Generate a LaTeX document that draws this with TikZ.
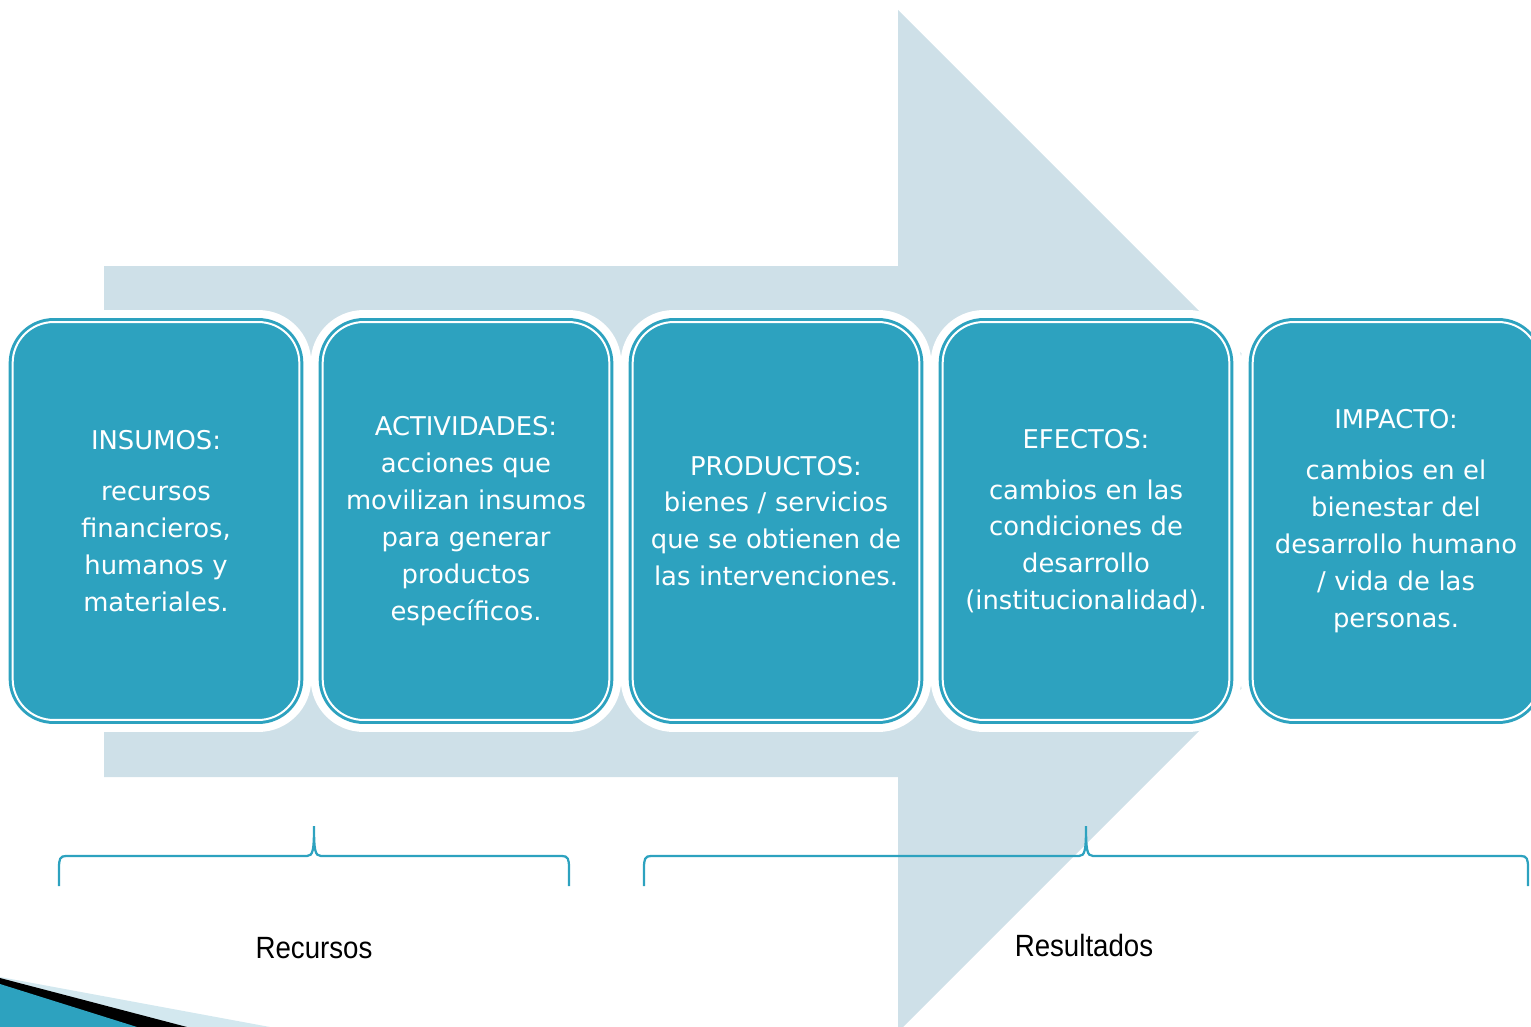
\documentclass[tikz,border=0pt]{standalone}
\usepackage{fontspec}
\newfontfamily\stagefont{DejaVu Sans}
\newfontfamily\labelfont{Liberation Sans}
\definecolor{arrowgray}{HTML}{CEE0E8}
\definecolor{stageteal}{HTML}{2DA2BF}
\definecolor{cornerblue}{HTML}{D3E8EF}
\tikzset{
	stagebox/.style={rectangle, rounded corners=0.82cm, minimum width=5.68cm, minimum height=7.96cm,
		text width=5.5cm, align=center, fill=stageteal, draw=white, line width=0.04cm,
		preaction={draw=white, line width=0.48cm}, preaction={draw=stageteal, line width=0.16cm},
		text=white, font=\stagefont\fontsize{14.7}{21}\selectfont},
	groupline/.style={draw=stageteal, line width=0.045cm},
	grouplabel/.style={font=\labelfont\fontsize{17.5}{21}\selectfont, text=black}
}
\def\groupbrace(#1:#2:#3){\draw[groupline] (#1,886) -- (#1,868) .. controls (#1,859) and ({#1+1},856) .. ({#1+7},856) -- ({#2-7},856) .. controls ({#2-1},856) and (#2,850) .. (#2,826) .. controls (#2,850) and ({#2+1},856) .. ({#2+7},856) -- ({#3-7},856) .. controls ({#3-1},856) and (#3,859) .. (#3,868) -- (#3,886);}

\begin{document}
\begin{tikzpicture}[x=0.02cm, y=-0.02cm]
			%%%%% START %%%%%
			\clip (0,0) rectangle (1531,1027);
			
			\fill[arrowgray] (104,266) -- (898,266) -- (898,10) -- (1409,521) -- (898,1032) -- (898,777) -- (104,777) -- cycle;
			
			\node[stagebox] (insumos) at (156,521) {INSUMOS:\\[8pt] recursos\\ financieros,\\ humanos y\\ materiales.};
			\node[stagebox] (actividades) at (466,521) {ACTIVIDADES:\\ acciones que\\ movilizan insumos\\ para generar\\ productos\\ específicos.};
			\node[stagebox] (productos) at (776,521) {PRODUCTOS:\\ bienes / servicios\\ que se obtienen de\\ las intervenciones.};
			\node[stagebox] (efectos) at (1086,521) {EFECTOS:\\[8pt] cambios en las\\ condiciones de\\ desarrollo\\ (institucionalidad).};
			\node[stagebox] (impacto) at (1396,521) {IMPACTO:\\[8pt] cambios en el\\ bienestar del\\ desarrollo humano\\ / vida de las\\ personas.};
			
			\groupbrace(59:314:569)
			\groupbrace(644:1086:1528)
			
			\node[grouplabel] (recursos) at (314,948) {\scalebox{0.9}[1]{Recursos}};
			\node[grouplabel] (resultados) at (1084,946) {\scalebox{0.9}[1]{Resultados}};
			
			\fill[cornerblue] (0,977) -- (270,1027) -- (0,1027) -- cycle;
			\fill[black] (0,978) -- (187,1027) -- (0,1027) -- cycle;
			\fill[stageteal] (0,984) -- (137,1027) -- (0,1027) -- cycle;
			
			%%%%% END %%%%%
\end{tikzpicture}
\end{document}
